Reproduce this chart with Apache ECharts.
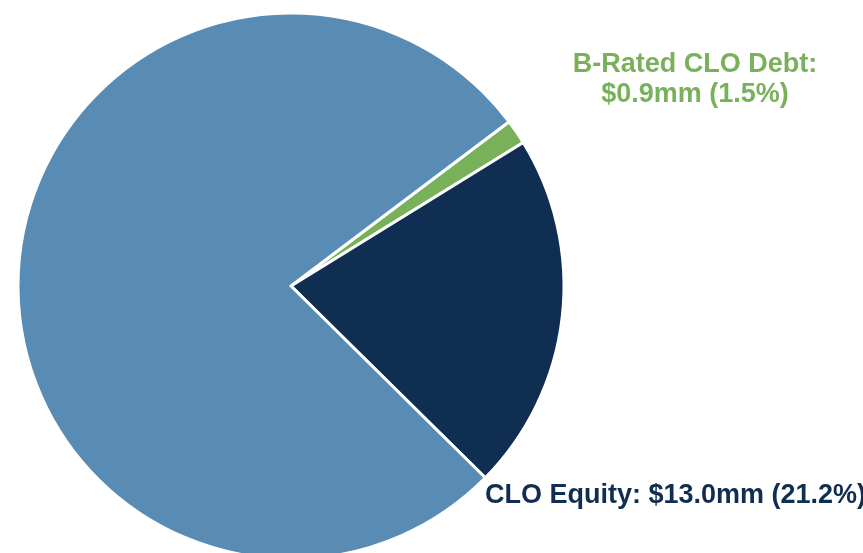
<!DOCTYPE html>
<html>
<head>
<meta charset="utf-8">
<script src="https://cdn.jsdelivr.net/npm/echarts@6/dist/echarts.min.js"></script>
<style>
  html, body { margin: 0; padding: 0; background: #fff; }
  #container { width: 863px; height: 553px; }
</style>
</head>
<body>
<div id="container"></div>
<script>
// slice names / values ($mm) / label text, clockwise from the green slice
var sliceNames = ['B-Rated CLO Debt', 'CLO Equity', 'Other'];
var sliceValues = [0.9, 13.0, 47.4];
var sliceLabels = ['B-Rated CLO Debt:\n$0.9mm (1.5%)', 'CLO Equity: $13.0mm (21.2%)', ''];
var sliceColors = ['#79b15b', '#102e51', '#588cb4'];

// where each label sits (text anchor), by slice index
var labelSpots = [
    { x: 695, y: 80, align: 'center' },
    { x: 485, y: 496, align: 'left' },
    null
];

var dom = document.getElementById('container');
var myChart = echarts.init(dom);

var data = [];
for (var i = 0; i < sliceValues.length; i++) {
    data.push({
        name: sliceNames[i],
        value: sliceValues[i],
        itemStyle: { color: sliceColors[i] },
        label: {
            show: sliceLabels[i] !== '',
            color: sliceColors[i]
        }
    });
}

var option = {
    backgroundColor: '#ffffff',
    animation: false,
    series: [
        {
            type: 'pie',
            center: [291, 286],
            radius: [0, 273],
            startAngle: 37,
            clockwise: true,
            itemStyle: {
                borderColor: '#ffffff',
                borderWidth: 3
            },
            label: {
                position: 'outside',
                fontFamily: 'Liberation Sans, Arial, sans-serif',
                fontWeight: 'bold',
                fontSize: 27,
                lineHeight: 30,
                overflow: 'none',
                formatter: function (p) {
                    return sliceLabels[p.dataIndex];
                }
            },
            labelLine: { show: false },
            labelLayout: function (params) {
                var s = labelSpots[params.dataIndex];
                if (!s) {
                    return {};
                }
                return {
                    x: s.x,
                    y: s.y,
                    align: s.align,
                    verticalAlign: 'middle'
                };
            },
            data: data
        }
    ]
};

myChart.setOption(option, true);
</script>
</body>
</html>
